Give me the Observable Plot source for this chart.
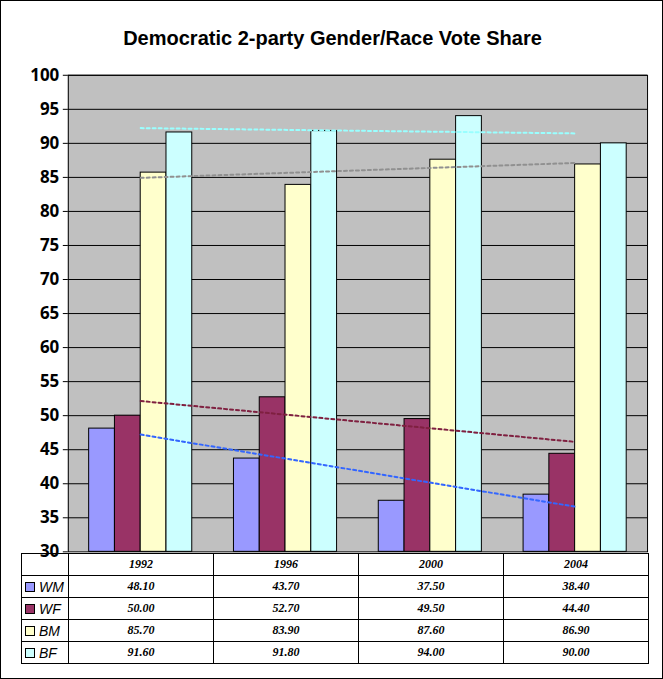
<!DOCTYPE html>
<html><head><meta charset="utf-8">
<script src="https://cdn.jsdelivr.net/npm/d3@7"></script>
<script src="https://cdn.jsdelivr.net/npm/@observablehq/plot@0.6"></script>
<style>
body{margin:0;background:#fff}
#wrap{position:relative;width:661px;height:677px;border:1px solid #000;background:#fff;font-family:Arial,"Liberation Sans",sans-serif}
#title{position:absolute;top:26px;left:0;width:663px;text-align:center;font-size:20px;font-weight:bold}
#chart{position:absolute;left:0;top:0}
table{position:absolute;left:20px;top:552px;border-collapse:collapse;font-family:"Liberation Serif","Times New Roman",serif;font-style:italic;font-weight:bold;font-size:12px}
td{border:1px solid #000;text-align:center;padding:0;height:21px}
td.l{text-align:left;width:46px;font-family:Arial,"Liberation Sans",sans-serif;font-weight:normal;font-size:14px}
.sw{display:inline-block;width:8px;height:8px;border:1px solid #000;margin:0 4px 0 3px}
</style></head><body>
<div id="wrap"><div id="title">Democratic 2-party Gender/Race Vote Share</div><div id="chart"></div>
<table id="tbl"></table></div>
<script>
const years = ["1992","1996","2000","2004"];
const seriesNames = ["WM","WF","BM","BF"];
const WM = [48.1,43.7,37.5,38.4];
const WF = [50.0,52.7,49.5,44.4];
const BM = [85.7,83.9,87.6,86.9];
const BF = [91.6,91.8,94.0,90.0];
const barColors = ["#9999ff","#993366","#ffffcc","#ccffff"];
const trendColors = ["#3366ff","#7f2040","#909090","#99ffff"];
const vals = [WM,WF,BM,BF];
const data = [];
seriesNames.forEach((s,k)=>years.forEach((y,i)=>data.push({s,k,i:i+1,v:vals[k][i]})));
const w = 0.178;
const plot = Plot.plot({
  width:663,height:553,marginLeft:67,marginRight:15,marginTop:74,marginBottom:1,
  style:{background:"transparent",overflow:"visible"},
  x:{domain:[0.5,4.5],axis:null},
  y:{domain:[30,100],ticks:d3.range(30,101,5),label:null,tickSize:4},
  color:{domain:seriesNames,range:barColors},
  marks:[
    Plot.rect([0],{x1:0.5,x2:4.5,y1:30,y2:100,fill:"#c0c0c0"}),
    Plot.ruleY(d3.range(35,101,5),{stroke:"#000",strokeWidth:1}),
    Plot.rectY(data,{x1:d=>d.i+(d.k-2)*w,x2:d=>d.i+(d.k-1)*w,y1:30,y2:"v",fill:"s",stroke:"#000",strokeWidth:1}),
    ...seriesNames.map((s,k)=>Plot.linearRegressionY(data.filter(d=>d.k===k),{x:"i",y:"v",ci:0,stroke:trendColors[k],strokeWidth:2,strokeDasharray:"3,3"})),
    Plot.axisY({ticks:d3.range(30,101,5),tickSize:5,fontSize:17,fontWeight:"bold",label:null}),
    Plot.frame({stroke:"#000",strokeWidth:1})
  ]
});
plot.querySelectorAll("[aria-label='y-axis tick label'] text, g[aria-label='y-axis tick label']").forEach(e=>{e.style.fontWeight="bold";e.style.fontSize="17px";e.style.fill="#000"});
document.getElementById("chart").appendChild(plot);
const tbl = document.getElementById("tbl");
let h = "<tr><td class='l'></td>"+years.map(y=>`<td style='width:144px'>${y}</td>`).join("")+"</tr>";
seriesNames.forEach((s,k)=>{
  h += `<tr><td class='l'><span class='sw' style='background:${barColors[k]}'></span><i>${s}</i></td>`+vals[k].map(v=>`<td>${v.toFixed(2)}</td>`).join("")+"</tr>";
});
tbl.innerHTML = h;
</script></body></html>
